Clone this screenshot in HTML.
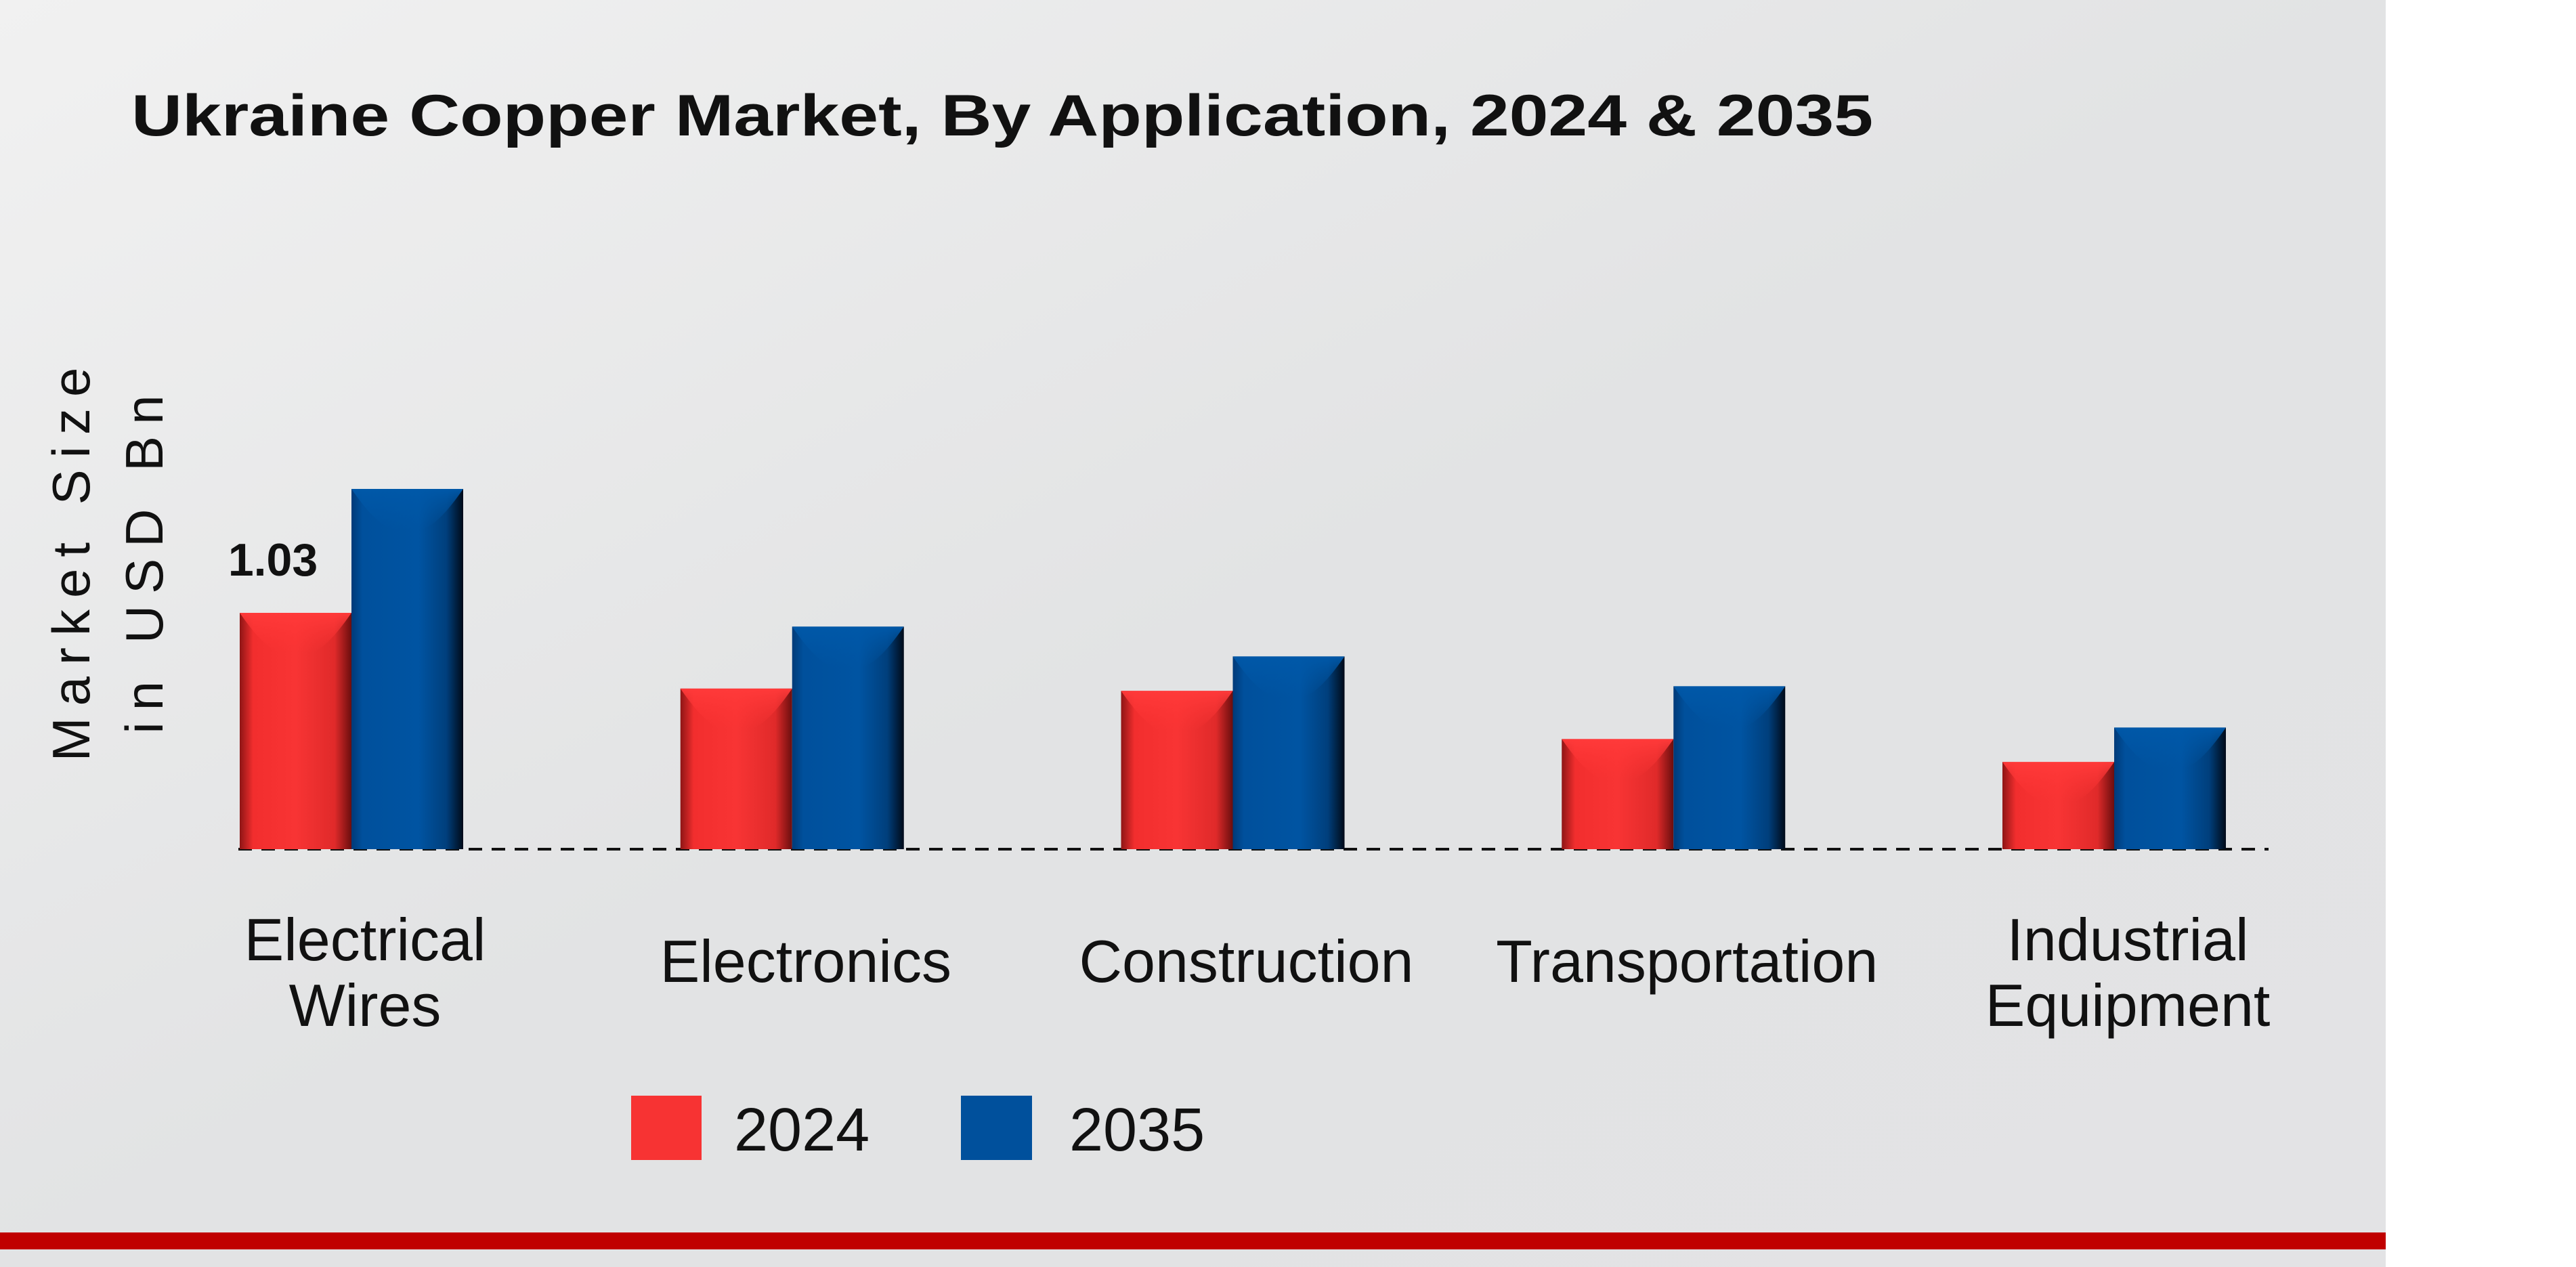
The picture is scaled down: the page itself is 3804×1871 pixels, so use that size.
<!DOCTYPE html>
<html><head><meta charset="utf-8"><style>
html,body{margin:0;padding:0;width:3804px;height:1871px;overflow:hidden;background:#fff;font-family:"Liberation Sans",sans-serif;}
</style></head><body>
<svg id="chart" width="3804" height="1871" viewBox="0 0 3804 1871" xmlns="http://www.w3.org/2000/svg">
<defs>
<linearGradient id="bg" x1="0" y1="0" x2="1" y2="1"><stop offset="0" stop-color="#f1f1f1"/><stop offset="0.5" stop-color="#e2e3e4"/><stop offset="1" stop-color="#e3e3e5"/></linearGradient>
<linearGradient id="gr" x1="0" y1="0" x2="1" y2="0"><stop offset="0" stop-color="#8e1515"/><stop offset="0.12" stop-color="#f22e2e"/><stop offset="0.5" stop-color="#f83434"/><stop offset="0.85" stop-color="#e02a2a"/><stop offset="1" stop-color="#6b0e0e"/></linearGradient>
<linearGradient id="gb" x1="0" y1="0" x2="1" y2="0"><stop offset="0" stop-color="#003a78"/><stop offset="0.1" stop-color="#00509c"/><stop offset="0.6" stop-color="#0054a2"/><stop offset="0.85" stop-color="#003f7c"/><stop offset="1" stop-color="#000a18"/></linearGradient>
<linearGradient id="tr" x1="0" y1="0" x2="0" y2="1"><stop offset="0" stop-color="#ff3a3a"/><stop offset="1" stop-color="#ff3434" stop-opacity="0"/></linearGradient>
<linearGradient id="tb" x1="0" y1="0" x2="0" y2="1"><stop offset="0" stop-color="#0058a8"/><stop offset="1" stop-color="#0058a8" stop-opacity="0"/></linearGradient>
</defs>
<rect x="0" y="0" width="3523" height="1871" fill="url(#bg)"/>
<rect x="0" y="1820" width="3523" height="25" fill="#c00000"/>
<text x="194" y="200" font-size="86" font-weight="bold" fill="#111" textLength="2572" lengthAdjust="spacingAndGlyphs">Ukraine Copper Market, By Application, 2024 &amp; 2035</text>
<g transform="translate(0,825) rotate(-90)" font-size="78" fill="#111" text-anchor="middle" letter-spacing="17">
<text x="0" y="132">Market Size</text>
<text x="0" y="240">in USD Bn</text>
</g>
<line x1="352" y1="1254" x2="3350" y2="1254" stroke="#111" stroke-width="4" stroke-dasharray="20,14"/>
<g id="bars"></g>
<g id="labels" font-size="88" fill="#111" text-anchor="middle"></g>
<text x="403" y="850" font-size="68" font-weight="bold" text-anchor="middle" fill="#111">1.03</text>
<rect x="932" y="1618" width="104" height="95" fill="#f73333"/>
<text x="1084" y="1699" font-size="90" fill="#111">2024</text>
<rect x="1419" y="1618" width="105" height="95" fill="#00509c"/>
<text x="1579" y="1699" font-size="90" fill="#111">2035</text>
</svg>
<script>
const categories = [["Electrical","Wires"],["Electronics"],["Construction"],["Transportation"],["Industrial","Equipment"]];
const values2024 = [1.03, 0.70, 0.69, 0.48, 0.38];
const values2035 = [1.57, 0.97, 0.84, 0.71, 0.53];
const NS="http://www.w3.org/2000/svg";
const baseY=1254, pxPerUnit=(1254-905)/1.03;
const x0=519, step=650.75, bw=165;
function xCenter(i){return x0+i*step;}
function yPos(v){return baseY-v*pxPerUnit;}
const bars=document.getElementById('bars'), labels=document.getElementById('labels');
function bar(i,v,series,left){
  const g=document.createElementNS(NS,'g');
  
  
  const x=left?xCenter(i)-bw:xCenter(i), y=yPos(v), h=baseY-y;
  const r=document.createElementNS(NS,'rect');
  r.setAttribute('x',x);r.setAttribute('y',y);r.setAttribute('width',bw);r.setAttribute('height',h);
  r.setAttribute('fill',series==='2024'?'url(#gr)':'url(#gb)');
  g.appendChild(r);
  const t=document.createElementNS(NS,'path');
  const d=Math.min(60,h/2);
  t.setAttribute('d',`M${x} ${y} L${x+bw} ${y} Q${x+bw*0.75} ${y+d} ${x+bw*0.6} ${y+d} L${x+bw*0.4} ${y+d} Q${x+bw*0.25} ${y+d} ${x} ${y}Z`);
  t.setAttribute('fill',series==='2024'?'url(#tr)':'url(#tb)');
  g.appendChild(t);
  bars.appendChild(g);
}
categories.forEach((c,i)=>{
  bar(i,values2024[i],'2024',true);
  bar(i,values2035[i],'2035',false);
  const t=document.createElementNS(NS,'text');
  
  
  const cx=xCenter(i)+20;
  if(c.length===1){
    t.setAttribute('x',cx);t.setAttribute('y',1450);t.textContent=c[0];
  } else {
    c.forEach((line,k)=>{
      const s=document.createElementNS(NS,'tspan');
      s.setAttribute('x',cx);s.setAttribute('y',1418+k*97);s.textContent=line;t.appendChild(s);
    });
  }
  labels.appendChild(t);
});
</script>
</body></html>
